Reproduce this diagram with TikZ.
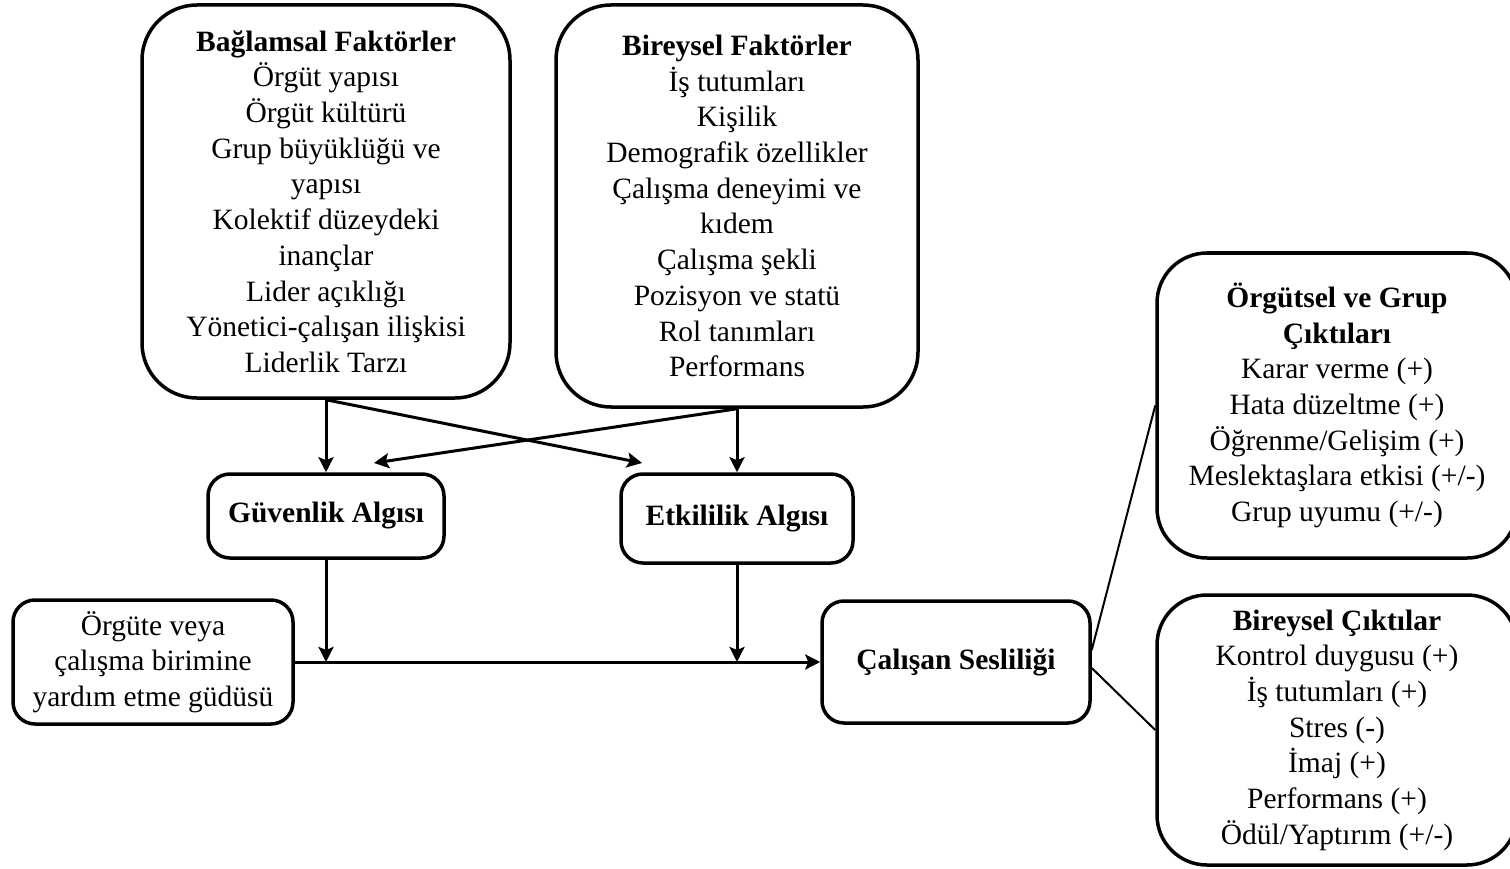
\documentclass[tikz,border=0pt]{standalone}
\usepackage{fontspec}
\setmainfont{Liberation Serif}
\usetikzlibrary{arrows.meta,calc}

\begin{document}
\begin{tikzpicture}[x=1pt,y=-1pt,
  kutu/.style={draw, line width=3.5pt, rounded corners=22pt, align=center, inner sep=0pt,
    font=\fontsize{29.5}{35.7}\selectfont},
  ok/.style={line width=3pt, -{Stealth[length=15pt,width=15pt,inset=3pt]}},
  cizgi/.style={line width=2pt}]
  \useasboundingbox (0,0) rectangle (1510,869);
  % factor boxes
  \node[kutu, rounded corners=55pt, minimum width=368pt, minimum height=393pt] (bag) at (326,201.5)
    {\textbf{Bağlamsal Faktörler}\\Örgüt yapısı\\Örgüt kültürü\\Grup büyüklüğü ve\\yapısı\\Kolektif düzeydeki\\inançlar\\Lider açıklığı\\Yönetici-çalışan ilişkisi\\Liderlik Tarzı};
  \node[kutu, rounded corners=55pt, minimum width=362pt, minimum height=402pt] (bir) at (737,206)
    {\textbf{Bireysel Faktörler}\\İş tutumları\\Kişilik\\Demografik özellikler\\Çalışma deneyimi ve\\kıdem\\Çalışma şekli\\Pozisyon ve statü\\Rol tanımları\\Performans};
  % perceptions
  \node[kutu, minimum width=236pt, minimum height=84pt] (guv) at (326,516) {\textbf{Güvenlik Algısı}};
  \node[kutu, minimum width=232pt, minimum height=89pt] (etk) at (737,518.5) {\textbf{Etkililik Algısı}};
  \node[kutu, minimum width=280pt, minimum height=124pt] (org) at (153,662)
    {Örgüte veya\\çalışma birimine\\yardım etme güdüsü};
  \node[kutu, minimum width=268pt, minimum height=122pt] (ces) at (956,662) {\textbf{Çalışan Sesliliği}};
  % outcomes
  \node[kutu, rounded corners=50pt, minimum width=360pt, minimum height=305pt] (ort) at (1337,405.5)
    {\textbf{Örgütsel ve Grup}\\\textbf{Çıktıları}\\Karar verme (+)\\Hata düzeltme (+)\\Öğrenme/Gelişim (+)\\Meslektaşlara etkisi (+/-)\\Grup uyumu (+/-)};
  \node[kutu, rounded corners=50pt, minimum width=360pt, minimum height=270pt] (bcik) at (1337,730)
    {\textbf{Bireysel Çıktılar}\\Kontrol duygusu (+)\\İş tutumları (+)\\Stres (-)\\İmaj (+)\\Performans (+)\\Ödül/Yaptırım (+/-)};
  \coordinate (ucA) at (642,463);
  \coordinate (ucB) at (374,463);
  % connectors
  \draw[ok] (bag.south) -- (guv.north);
  \draw[ok] (bag.south) -- (ucA);
  \draw[ok] (bir.south) -- (ucB);
  \draw[ok] (bir.south) -- (etk.north);
  \draw[ok] (guv.south) -- (guv.south |- org.east);
  \draw[ok] (etk.south) -- (etk.south |- org.east);
  \draw[ok] (org.east) -- (ces.west);
  \draw[cizgi] ($(ces.east)+(0,-12)$) -- (ort.west);
  \draw[cizgi] ($(ces.east)+(0,6)$) -- (bcik.west);
\end{tikzpicture}
\end{document}
